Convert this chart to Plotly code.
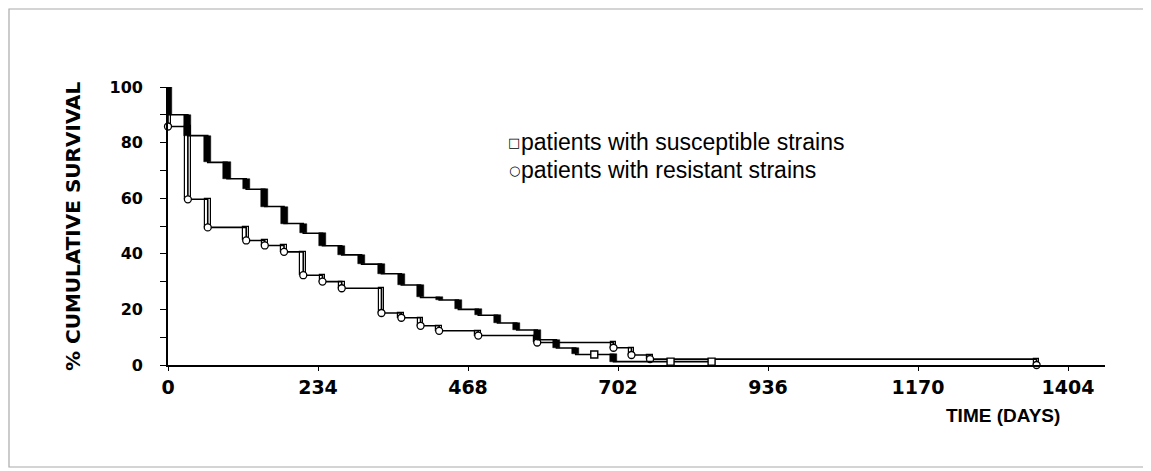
import plotly.graph_objects as go

# ---- data (days, % cumulative survival) ----
sus_days = [0, 31, 62, 92, 122, 151, 181, 211, 241, 271, 302, 333, 364, 394,
            423, 453, 484, 514, 544, 576, 606, 636, 695]
sus_surv = [90.0, 82.5, 72.9, 67.0, 63.2, 57.0, 50.9, 47.4, 42.9, 39.6, 36.3,
            32.8, 28.8, 24.3, 23.4, 20.0, 17.9, 15.1, 12.6, 9.1, 6.1, 3.8, 1.2]
sus_cens_days = [665, 784, 848]
sus_cens_surv = [3.8, 1.2, 1.2]
sus_last_day = 848

res_days = [0, 31, 62, 122, 151, 181, 211, 241, 271, 333, 364, 394, 423, 484,
            576, 695, 723, 752, 1355]
res_surv = [85.8, 59.6, 49.5, 44.8, 43.0, 40.7, 32.3, 30.0, 27.6, 18.7, 17.0,
            14.1, 12.3, 10.6, 8.1, 6.2, 3.6, 2.1, 0.0]
res_last_day = 1355

x_ticks = [0, 234, 468, 702, 936, 1170, 1404]
y_ticks = [0, 20, 40, 60, 80, 100]

legend_labels = ["patients with susceptible strains", "patients with resistant strains"]

# the page body adds an 8px margin; target pixel positions are given in window coords
OFF = 8
W, H = 1151 - OFF, 471 - OFF
L, R, T, B = 168 - OFF, 46, 87 - OFF, 106
pw, ph = W - L - R, H - T - B


def step_xy(days, surv, last_day):
    xs = [0] + list(days) + [last_day]
    ys = [100] + list(surv) + [surv[-1]]
    return xs, ys


def drops(surv):
    prev = [100] + list(surv[:-1])
    return [p - s for p, s in zip(prev, surv)]


fig = go.Figure()

# resistant strains curve
rx, ry = step_xy(res_days, res_surv, res_last_day)
fig.add_trace(go.Scatter(x=rx, y=ry, mode="lines", line=dict(color="black", width=1.6, shape="hv"),
                         showlegend=False, hoverinfo="skip", cliponaxis=False))
fig.add_trace(go.Bar(x=res_days, y=drops(res_surv), base=res_surv, width=9,
                     marker=dict(color="white", line=dict(color="black", width=1.2)),
                     showlegend=False, cliponaxis=False))
fig.add_trace(go.Scatter(x=res_days, y=res_surv, mode="markers",
                         marker=dict(symbol="circle", size=7, color="white",
                                     line=dict(color="black", width=1.3)),
                         showlegend=False, cliponaxis=False))

# susceptible strains curve
sx, sy = step_xy(sus_days, sus_surv, sus_last_day)
fig.add_trace(go.Scatter(x=sx, y=sy, mode="lines", line=dict(color="black", width=1.6, shape="hv"),
                         showlegend=False, hoverinfo="skip", cliponaxis=False))
fig.add_trace(go.Bar(x=sus_days, y=drops(sus_surv), base=sus_surv, width=11,
                     marker=dict(color="black", line=dict(color="black", width=0.5)),
                     showlegend=False, cliponaxis=False))
fig.add_trace(go.Scatter(x=sus_cens_days, y=sus_cens_surv, mode="markers",
                         marker=dict(symbol="square", size=7, color="white",
                                     line=dict(color="black", width=1.4)),
                         showlegend=False, cliponaxis=False))

fig.update_layout(
    width=W, height=H,
    margin=dict(l=L, r=R, t=T, b=B),
    paper_bgcolor="white", plot_bgcolor="white",
    barmode="overlay", bargap=0,
    xaxis=dict(range=[0, pw / (900 / 1404)], showgrid=False, zeroline=False,
               showline=True, linecolor="black", linewidth=1.6,
               tickmode="array", tickvals=x_ticks, ticktext=[str(v) for v in x_ticks],
               ticks="outside", ticklen=4, tickwidth=1.4, tickcolor="black",
               tickfont=dict(family="DejaVu Sans", size=19, color="black", weight="bold")),
    yaxis=dict(range=[0, 100], showgrid=False, zeroline=False,
               showline=True, linecolor="black", linewidth=1.6,
               tickmode="array", tickvals=y_ticks, ticktext=[str(v) for v in y_ticks],
               ticks="outside", ticklen=6, tickwidth=1.4, tickcolor="black",
               minor=dict(dtick=10, ticks="outside", ticklen=6, tickwidth=1.4, tickcolor="black"),
               ticklabelstandoff=14,
               tickfont=dict(family="DejaVu Sans", size=16, color="black", weight="bold")),
)


def px_x(p):
    return (p - OFF - L) / pw


def px_y(p):
    return (H - B - (p - OFF)) / ph


ann = []
ann.append(dict(text="% CUMULATIVE SURVIVAL", textangle=-90, x=px_x(73), y=px_y(227),
                xref="paper", yref="paper", xanchor="center", yanchor="middle", showarrow=False,
                font=dict(family="DejaVu Sans", size=20, color="black", weight="bold")))
ann.append(dict(text="TIME (DAYS)", x=px_x(1003), y=px_y(415), xref="paper", yref="paper",
                xanchor="center", yanchor="middle", showarrow=False,
                font=dict(family="Liberation Sans", size=19, color="black", weight="bold")))
for i, (sym, lab) in enumerate(zip(["\u25a1", "\u25cb"], legend_labels)):
    yy = px_y(142 + 28 * i)
    ann.append(dict(text=sym, x=px_x(514), y=yy, xref="paper", yref="paper",
                    xanchor="center", yanchor="middle", showarrow=False,
                    font=dict(family="DejaVu Sans", size=13, color="black")))
    ann.append(dict(text=lab, x=px_x(519), y=yy, xref="paper", yref="paper",
                    xanchor="left", yanchor="middle", showarrow=False,
                    font=dict(family="Liberation Sans", size=23, color="black")))
fig.update_layout(annotations=ann)

# scanned-page frame
fig.add_shape(type="rect", xref="paper", yref="paper",
              x0=px_x(9), x1=px_x(1145), y0=px_y(467), y1=px_y(9),
              line=dict(color="#aaaaaa", width=1.2), layer="below")

fig.write_html("out.html")
